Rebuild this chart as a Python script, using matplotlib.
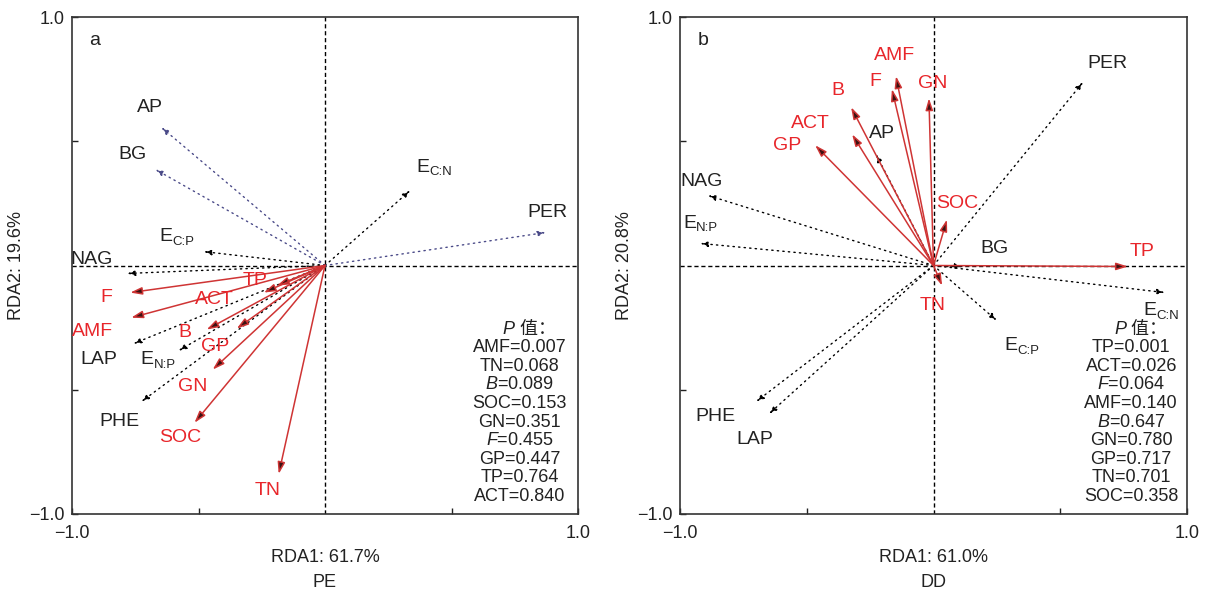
import matplotlib
matplotlib.use('Agg')
import matplotlib.pyplot as plt

plt.rcParams['font.family'] = ['Liberation Sans', 'Noto Sans CJK SC']
plt.rcParams['mathtext.fontset'] = 'custom'
plt.rcParams['mathtext.rm'] = 'Liberation Sans'
plt.rcParams['mathtext.it'] = 'Liberation Sans:italic'
plt.rcParams['axes.unicode_minus'] = True

# ---- panel a (PE) ----
a_resp = ['F', 'AMF', 'TP', 'ACT', 'B', 'GP', 'GN', 'SOC', 'TN']
a_resp_x = [-0.770, -0.766, -0.190, -0.242, -0.468, -0.349, -0.444, -0.516, -0.183]
a_resp_y = [-0.109, -0.210, -0.081, -0.109, -0.258, -0.254, -0.419, -0.633, -0.839]
a_env = ['AP', 'BG', 'E_C:P', 'NAG', 'LAP', 'E_N:P', 'PHE', 'E_C:N', 'PER']
a_env_x = [-0.647, -0.671, -0.480, -0.782, -0.758, -0.579, -0.726, 0.337, 0.873]
a_env_y = [0.556, 0.387, 0.056, -0.032, -0.315, -0.343, -0.548, 0.302, 0.133]
a_xlabel = 'RDA1: 61.7%'
a_ylabel = 'RDA2: 19.6%'
a_group = 'PE'
a_p_names = ['AMF', 'TN', 'B', 'SOC', 'GN', 'F', 'GP', 'TP', 'ACT']
a_p_vals = ['0.007', '0.068', '0.089', '0.153', '0.351', '0.455', '0.447', '0.764', '0.840']

# ---- panel b (DD) ----
b_resp = ['AMF', 'F', 'GN', 'B', 'ACT', 'GP', 'SOC', 'TP', 'TN']
b_resp_x = [-0.148, -0.164, -0.018, -0.325, -0.321, -0.467, 0.053, 0.767, 0.034]
b_resp_y = [0.762, 0.710, 0.673, 0.637, 0.528, 0.484, 0.185, -0.004, -0.081]
b_env = ['AP', 'NAG', 'E_N:P', 'PER', 'E_C:N', 'BG', 'E_C:P', 'PHE', 'LAP']
b_env_x = [-0.227, -0.890, -0.921, 0.590, 0.913, 0.116, 0.250, -0.700, -0.649]
b_env_y = [0.448, 0.282, 0.089, 0.738, -0.109, -0.004, -0.222, -0.548, -0.597]
b_xlabel = 'RDA1: 61.0%'
b_ylabel = 'RDA2: 20.8%'
b_group = 'DD'
b_p_names = ['TP', 'ACT', 'F', 'AMF', 'B', 'GN', 'GP', 'TN', 'SOC']
b_p_vals = ['0.001', '0.026', '0.064', '0.140', '0.647', '0.780', '0.717', '0.701', '0.358']

italic_names = ['B', 'F']

# label offsets from arrow tips, in pixels (x right, y up)
a_off = {'AP': (-11, 20), 'BG': (-23, 15), 'E_C:P': (-25, 15), 'NAG': (-36, 14),
         'LAP': (-34, -16), 'E_N:P': (-19, -9), 'PHE': (-22, -20), 'E_C:N': (25, 23),
         'PER': (2, 20), 'F': (-24, -5), 'AMF': (-39, -14), 'TP': (-22, 5),
         'ACT': (-49, -7), 'B': (-22, -3), 'GP': (-22, -18), 'GN': (-20, -17),
         'SOC': (-14, -15), 'TN': (-11, -17)}
b_off = {'AMF': (-1, 21), 'F': (-17, 8), 'GN': (4, 15), 'B': (-13, 17), 'ACT': (-42, 11),
         'GP': (-28, 0), 'AP': (6, 21), 'NAG': (-6, 14), 'E_N:P': (2, 20), 'SOC': (10, 16),
         'PER': (24, 19), 'TP': (14, 15), 'E_C:N': (-3, -18), 'BG': (32, 18),
         'TN': (-9, -20), 'E_C:P': (27, -25), 'PHE': (-41, -15), 'LAP': (-14, -26)}

RED = '#e8262b'
RED_LINE = '#cf3434'
DARK = '#222222'
FS_LAB = 14
FS_TXT = 13


def put_label(ax, name, x, y, off, color):
    dx, dy = off
    if name.startswith('E_'):
        # E with a tight C:N style subscript
        ax.annotate('E', xy=(x, y), xytext=(dx - 6, dy), textcoords='offset pixels',
                    ha='right', va='center', fontsize=FS_LAB, color=color)
        ax.annotate(name[2:], xy=(x, y), xytext=(dx - 6, dy - 5), textcoords='offset pixels',
                    ha='left', va='center', fontsize=9.5, color=color)
    else:
        ax.annotate(name, xy=(x, y), xytext=(dx, dy), textcoords='offset pixels',
                    ha='center', va='center', fontsize=FS_LAB, color=color)


def draw_panel(ax, resp, rx, ry, env, ex, ey, off, blue, xlabel, ylabel, group,
               p_names, p_vals, letter, px):
    ax.set_xlim(-1, 1)
    ax.set_ylim(-1, 1)
    ax.axhline(0, color='black', lw=1, ls=(0, (3, 2)))
    ax.axvline(0, color='black', lw=1, ls=(0, (3, 2)))
    for n, x, y in zip(env, ex, ey):
        c = '#4a4a88' if n in blue else 'black'
        ax.annotate('', xy=(x, y), xytext=(0, 0),
                    arrowprops=dict(arrowstyle='-|>,head_length=0.45,head_width=0.15',
                                    color=c, lw=1.0, ls=(0, (1, 3)),
                                    shrinkA=0, shrinkB=0))
        put_label(ax, n, x, y, off[n], DARK)
    for n, x, y in zip(resp, rx, ry):
        ax.annotate('', xy=(x, y), xytext=(0, 0),
                    arrowprops=dict(arrowstyle='-|>,head_length=0.7,head_width=0.22',
                                    ec=RED_LINE, fc='#3a1212', lw=1.1,
                                    shrinkA=0, shrinkB=0))
        put_label(ax, n, x, y, off[n], RED)

    ax.set_xticks([-1, -0.5, 0.5, 1])
    ax.set_xticklabels(['\u22121.0', '', '', '1.0'])
    ax.set_yticks([-1, -0.5, 0.5, 1])
    ax.set_yticklabels(['\u22121.0', '', '', '1.0'])
    ax.tick_params(direction='in', length=4, width=1, labelsize=13, colors=DARK)
    ax.tick_params(axis='x', pad=8)
    ax.tick_params(axis='y', pad=5)
    for s in ax.spines.values():
        s.set_linewidth(1.2)
        s.set_color('#333333')
    ax.text(0.5, -0.088, xlabel, transform=ax.transAxes, fontsize=13, color=DARK,
            ha='center', va='center')
    ax.text(0.5, -0.138, group, transform=ax.transAxes, fontsize=13, color=DARK,
            ha='center', va='center')
    ax.set_ylabel(ylabel, fontsize=13, color=DARK, labelpad=3)
    ax.text(0.045, 0.953, letter, transform=ax.transAxes, fontsize=14,
            ha='center', va='center', color=DARK)

    y0 = 0.372
    step = 0.0374
    ax.text(px - 0.01, y0, 'P', style='italic', transform=ax.transAxes, fontsize=FS_TXT,
            ha='right', va='center', color=DARK)
    ax.text(px - 0.01, y0, ' 值：', transform=ax.transAxes, fontsize=FS_TXT,
            ha='left', va='center', color=DARK)
    for i, (n, v) in enumerate(zip(p_names, p_vals)):
        lab = (r'$\mathit{' + n + '}$') if n in italic_names else n
        ax.text(px, y0 - (i + 1) * step, lab + '=' + v, transform=ax.transAxes,
                fontsize=FS_TXT, ha='center', va='center', color=DARK)


fig = plt.figure(figsize=(12.13, 5.9), dpi=100)
ax_a = fig.add_axes([72 / 1213, 1 - 514 / 590, 506 / 1213, 497 / 590])
ax_b = fig.add_axes([680 / 1213, 1 - 514 / 590, 507 / 1213, 497 / 590])

draw_panel(ax_a, a_resp, a_resp_x, a_resp_y, a_env, a_env_x, a_env_y, a_off,
           ['AP', 'BG', 'PER'], a_xlabel, a_ylabel, a_group, a_p_names, a_p_vals, 'a', 0.885)
draw_panel(ax_b, b_resp, b_resp_x, b_resp_y, b_env, b_env_x, b_env_y, b_off,
           [], b_xlabel, b_ylabel, b_group, b_p_names, b_p_vals, 'b', 0.89)

fig.savefig('out.png', dpi=100)
